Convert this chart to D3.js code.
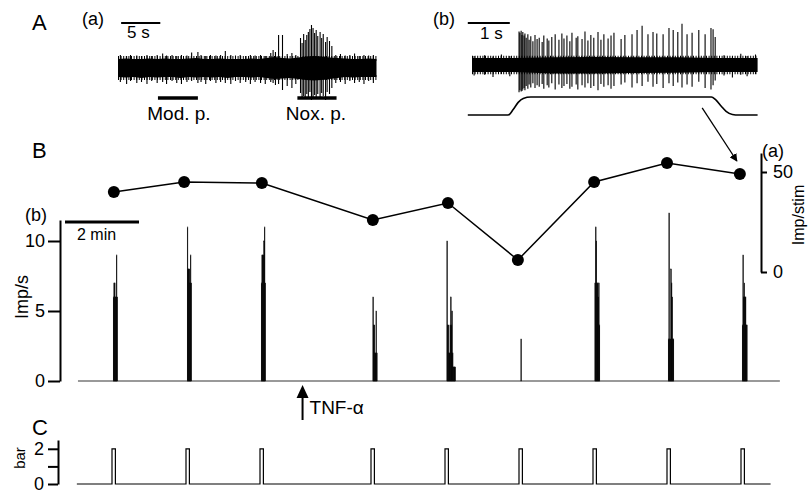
<!DOCTYPE html>
<html>
<head>
<meta charset="utf-8">
<script src="https://cdn.jsdelivr.net/npm/d3@7"></script>
<style>
  body { margin: 0; background: #fff; }
  svg { display: block; font-family: "Liberation Sans", Arial, Helvetica, sans-serif; }
  .axis path, .axis line { stroke: #000; stroke-width: 2; }
  .axis text { font-size: 18px; fill: #000; font-family: "Liberation Sans", Arial, sans-serif; }
  .lbl { fill: #000; }
</style>
</head>
<body>
<div id="chart"></div>
<script>
// ---- B / C: long recording, time in minutes ----
const stimTimes = [1, 3, 5, 8, 10, 12, 14, 16, 18];
const stimDuration = 5.5;        // s
const stimPressure = 2;          // bar
const tnfTime = 6.15;            // min
const traceStart = 0.05, traceEnd = 18.8, baselineEnd = 19.05;

// Imp/s in 1 s bins counted from each stimulus onset
const rateBins = [
  [0, 0, 6, 7, 7, 6, 6, 9, 6],
  [0, 0, 11, 8, 8, 8, 7, 9, 7],
  [0, 0, 7, 9, 9, 9, 10, 11, 7],
  [0, 0, 0, 6, 4, 4, 2, 2, 5, 2],
  [0, 0, 0, 10, 4, 4, 2, 2, 4, 6, 4, 5, 2, 1, 1, 1, 1],
  [0, 0, 0, 3],
  [0, 0, 0, 7, 11, 10, 7, 7, 6, 7, 4],
  [0, 0, 3, 12, 3, 3, 8, 7, 6, 3, 3],
  [0, 0, 4, 9, 6, 7, 6, 6, 4, 4]
];

// (a) impulses per stimulus
const dotTimes = [1.05, 2.95, 5.05, 8.05, 10.08, 11.97, 14.03, 16.0, 17.97];
const impPerStim = [40, 45, 44.5, 26, 34.5, 6, 45, 54.5, 49];

// ---- A(a): 33 s recording, moderate and noxious pressure ----
const aaTop = [0.9,0.95,0.9,0.9,0.95,0.9,0.95,0.9,0.9,0.95,1.0,0.9,0.9,0.95,0.9,0.9,0.9,0.95,0.9,1.0,1.1,1.0,0.95,1.05,1.15,1.2,1.15,1.05,1.0,0.95,0.9,0.9,0.95,0.9];
const aaBottom = [-0.9,-0.95,-0.9,-1.0,-0.9,-0.95,-0.9,-0.9,-1.0,-0.9,-0.95,-0.9,-0.95,-0.9,-1.0,-0.9,-0.9,-0.95,-0.9,-1.0,-1.1,-1.05,-1.0,-1.1,-1.2,-1.25,-1.2,-1.1,-1.0,-0.9,-0.95,-0.9,-0.9,-0.9];
const aaSpikes = [
  [0.3,1.3,-1.4],[1.1,1.2,-1.6],[1.6,1.3,-1.3],[2.4,1.25,-1.5],[3.0,1.2,-1.4],[3.7,1.3,-1.6],[4.3,1.2,-1.3],
  [5.0,1.3,-1.5],[5.7,1.45,-1.4],[6.2,1.25,-1.6],[6.9,1.3,-1.3],[7.5,1.2,-1.5],[8.1,1.3,-1.6],[8.8,1.25,-1.4],
  [9.4,1.55,-1.3],[10.2,1.6,-1.5],[10.6,1.3,-1.4],[11.2,1.2,-1.6],[11.8,1.3,-1.3],[12.5,1.25,-1.5],[13.1,1.3,-1.4],
  [13.7,1.7,-1.5],[14.4,1.3,-1.6],[15.0,1.25,-1.3],[15.6,1.3,-1.5],[16.3,1.2,-1.4],[16.9,1.3,-1.6],[17.5,1.25,-1.4],
  [18.2,1.3,-1.5],[18.8,1.2,-1.6],[19.5,1.5,-1.4],[19.8,1.8,-1.5],[20.1,1.6,-1.7],[20.5,3.3,-1.6],[21.0,3.3,-2.2],
  [21.6,1.4,-1.8],[22.2,1.5,-2.0],[22.7,1.3,-1.6],
  [23.3,3.0,-2.5],[23.5,2.5,-3.0],[23.7,3.4,-2.8],[23.9,2.8,-3.1],[24.1,3.3,-2.6],[24.3,3.6,-3.0],[24.5,3.9,-2.4],
  [24.7,4.3,-3.2],[24.9,4.0,-2.9],[25.1,3.5,-2.7],[25.3,3.8,-3.1],[25.5,3.2,-2.6],[25.8,3.6,-2.9],[26.0,3.0,-2.5],
  [26.2,3.4,-2.8],[26.5,2.6,-3.2],[26.7,3.1,-2.4],[27.0,2.7,-2.6],[27.3,2.2,-2.0],
  [27.8,1.3,-1.5],[28.4,1.4,-1.4],[29.0,1.25,-1.6],[29.6,1.3,-1.3],[30.2,1.45,-1.5],[30.8,1.2,-1.4],[31.4,1.3,-1.6],
  [32.0,1.25,-1.3],[32.6,1.3,-1.5]
];
const modPress = [5.1, 10.2];
const noxPress = [22.9, 27.9];

// ---- A(b): 6.8 s sweep, single stimulus ----
const abTop = [1.0, 1.0, 1.1, 1.15, 1.1, 1.1, 1.0, 1.0];
const abBottom = [-1.0, -1.0, -1.2, -1.2, -1.15, -1.1, -1.0, -1.0];
const abSpikes = [
  [0.05,1.3,-1.5],[0.3,1.4,-1.4],[0.5,1.2,-1.7],[0.7,1.5,-1.3],[0.9,1.3,-1.6],
  [1.12,4.8,-3.9],[1.14,4.6,-3.6],[1.17,4.9,-3.8],[1.19,4.3,-3.7],[1.21,4.7,-3.5],[1.24,4.2,-3.3],[1.26,4.5,-3.6],
  [1.29,3.9,-3.0],[1.33,4.4,-3.4],[1.36,3.6,-2.8],[1.40,4.1,-3.2],[1.45,3.4,-2.6],[1.50,4.3,-3.3],[1.55,3.7,-2.9],
  [1.60,3.9,-3.1],[1.67,3.3,-2.7],[1.71,4.2,-3.4],[1.79,3.8,-2.9],[1.83,3.5,-3.2],[1.90,4.0,-2.6],[1.98,4.4,-3.5],
  [2.07,3.6,-2.8],[2.14,4.5,-3.3],[2.19,3.8,-3.0],[2.26,4.2,-2.7],[2.33,3.4,-3.4],[2.38,4.6,-3.1],[2.48,3.9,-2.8],
  [2.52,4.1,-3.5],[2.62,3.7,-2.9],[2.69,4.8,-3.2],[2.76,3.5,-2.6],[2.83,4.3,-3.3],[2.90,3.9,-3.0],[3.00,4.7,-3.6],
  [3.07,3.6,-2.7],[3.14,4.4,-3.1],[3.24,3.8,-2.9],[3.31,4.2,-3.4],[3.38,4.6,-3.0],[3.55,3.7,-2.8],[3.64,4.3,-2.5],
  [3.81,4.4,-3.2],[3.93,5.0,-2.6],[4.05,5.6,-3.0],[4.19,4.4,-2.4],[4.31,4.7,-3.1],[4.40,4.5,-2.7],[4.55,4.4,-3.3],
  [4.69,5.3,-2.6],[4.79,5.0,-3.0],[4.90,4.7,-2.5],[5.00,5.9,-3.2],[5.12,4.4,-2.8],[5.24,4.6,-3.1],[5.40,5.0,-2.4],
  [5.55,4.4,-3.3],[5.69,5.3,-3.5],[5.74,5.1,-2.9],[5.79,4.0,-2.2],
  [6.0,1.4,-1.5],[6.2,1.2,-1.8],[6.4,1.6,-1.4],[6.55,1.3,-1.6],[6.75,1.5,-1.3]
];
// mechanical stimulus (normalised force)
const abForce = [[-0.1,0],[0.86,0],[0.98,0.3],[1.1,0.7],[1.22,0.92],[1.4,1],[5.7,1],[5.8,0.85],[5.93,0.5],[6.05,0.2],[6.2,0.03],[6.35,0],[6.8,0]];

const svg = d3.select('#chart').append('svg')
  .attr('width', 808)
  .attr('height', 494);

svg.append('defs').append('marker')
  .attr('id', 'head')
  .attr('viewBox', '0 0 10 10')
  .attr('refX', 9).attr('refY', 5)
  .attr('markerWidth', 6).attr('markerHeight', 6)
  .attr('markerUnits', 'strokeWidth')
  .attr('orient', 'auto')
  .append('path').attr('d', 'M0,0 L10,5 L0,10 Z').attr('fill', '#000');

function text(x, y, s, size, anchor) {
  return svg.append('text').attr('class', 'lbl')
    .attr('x', x).attr('y', y)
    .attr('font-size', size)
    .attr('text-anchor', anchor || 'start')
    .text(s);
}

function drawTrace(xs, ys, top, bottom, spikes) {
  const g = svg.append('g');
  const [t0, t1] = xs.domain();
  const env = top.map((d, i) => [t0 + i * (t1 - t0) / (top.length - 1), d, bottom[i]]);
  g.append('path')
    .datum(env)
    .attr('fill', '#000')
    .attr('d', d3.area().x(d => xs(d[0])).y0(d => ys(d[2])).y1(d => ys(d[1])));
  // noise fuzz on both edges
  [0.95, -0.95].forEach(v => {
    g.append('line')
      .attr('x1', xs(t0)).attr('x2', xs(t1))
      .attr('y1', ys(v)).attr('y2', ys(v))
      .attr('stroke', '#000').attr('stroke-width', 5)
      .attr('stroke-dasharray', '1,1.6');
  });
  g.selectAll('.spk').data(spikes).join('line')
    .attr('x1', d => xs(d[0])).attr('x2', d => xs(d[0]))
    .attr('y1', d => ys(d[1])).attr('y2', d => ys(d[2]))
    .attr('stroke', '#000').attr('stroke-width', 1.1);
}

// ===== A(a) =====
const xAa = d3.scaleLinear().domain([0, 33]).range([118, 376.5]);
const yAa = d3.scaleLinear().domain([-1, 1]).range([78, 58]);
drawTrace(xAa, yAa, aaTop, aaBottom, aaSpikes);

svg.append('line').attr('x1', xAa(0.4)).attr('x2', xAa(5.4)).attr('y1', 23).attr('y2', 23)
  .attr('stroke', '#000').attr('stroke-width', 2);
[modPress, noxPress].forEach(p => {
  svg.append('line').attr('x1', xAa(p[0])).attr('x2', xAa(p[1])).attr('y1', 98).attr('y2', 98)
    .attr('stroke', '#000').attr('stroke-width', 3.5);
});
text(32, 30, 'A', 22);
text(82, 25, '(a)', 18);
text(127, 38, '5 s', 17);
text(xAa(d3.mean(modPress)) + 1, 120, 'Mod. p.', 19, 'middle');
text(xAa(d3.mean(noxPress)) - 1, 120, 'Nox. p.', 19, 'middle');

// ===== A(b) =====
const xAb = d3.scaleLinear().domain([0, 6.8]).range([472, 757.6]);
const yAb = d3.scaleLinear().domain([-1, 1]).range([72, 58]);
const yForce = d3.scaleLinear().domain([0, 1]).range([115, 97]);
drawTrace(xAb, yAb, abTop, abBottom, abSpikes);

svg.append('line').attr('x1', xAb(-0.1)).attr('x2', xAb(0.9)).attr('y1', 23).attr('y2', 23)
  .attr('stroke', '#000').attr('stroke-width', 2);
svg.append('path').datum(abForce)
  .attr('fill', 'none').attr('stroke', '#000').attr('stroke-width', 1.6)
  .attr('d', d3.line().x(d => xAb(d[0])).y(d => yForce(d[1])).curve(d3.curveMonotoneX));
text(433, 25, '(b)', 18);
text(480, 39, '1 s', 17);

// ===== B =====
const xB = d3.scaleLinear().domain([0, 19]).range([75, 778]);
const yB = d3.scaleLinear().domain([0, 11.5]).range([381, 220]);
const yStim = d3.scaleLinear().domain([0, 59.5]).range([272, 153]);

svg.append('g').attr('class', 'axis')
  .attr('transform', 'translate(60,0)')
  .call(d3.axisLeft(yB).tickValues([0, 5, 10]).tickSize(12).tickSizeOuter(0).tickPadding(3));

svg.append('line')
  .attr('x1', xB(0.08)).attr('x2', xB(baselineEnd))
  .attr('y1', yB(0)).attr('y2', yB(0))
  .attr('stroke', '#777').attr('stroke-width', 1.6);

const binW = xB(1 / 60) - xB(0);
const bins = [];
rateBins.forEach((arr, i) => arr.forEach((v, k) => {
  if (v > 0) bins.push({ t: stimTimes[i] + k / 60, v: v });
}));
svg.append('g').selectAll('rect').data(bins).join('rect')
  .attr('x', d => xB(d.t))
  .attr('width', binW)
  .attr('y', d => yB(d.v))
  .attr('height', d => yB(0) - yB(d.v))
  .attr('fill', '#000')
  .attr('stroke', '#000')
  .attr('stroke-width', 0.5);

// Imp/stim series
const dots = dotTimes.map((t, i) => [t, impPerStim[i]]);
svg.append('path').datum(dots)
  .attr('fill', 'none').attr('stroke', '#000').attr('stroke-width', 1.5)
  .attr('d', d3.line().x(d => xB(d[0])).y(d => yStim(d[1])));
svg.append('g').selectAll('circle').data(dots).join('circle')
  .attr('cx', d => xB(d[0])).attr('cy', d => yStim(d[1]))
  .attr('r', 6).attr('fill', '#000');

svg.append('g').attr('class', 'axis')
  .attr('transform', 'translate(761,0)')
  .call(d3.axisRight(yStim).tickValues([0, 50]).tickSize(6).tickSizeOuter(0).tickPadding(6));

// arrow from A(b) sweep to its point
const last = dots[dots.length - 1];
svg.append('line')
  .attr('x1', xAb(5.48)).attr('y1', yForce(0.39))
  .attr('x2', xB(last[0]) - 3).attr('y2', yStim(last[1]) - 13)
  .attr('stroke', '#000').attr('stroke-width', 1.3)
  .attr('marker-end', 'url(#head)');

text(32, 158, 'B', 22);
text(25, 221, '(b)', 18);
svg.append('line').attr('x1', xB(-0.27)).attr('x2', xB(1.73)).attr('y1', 222).attr('y2', 222)
  .attr('stroke', '#000').attr('stroke-width', 3);
text(77, 240, '2 min', 16);
text(762, 157, '(a)', 18);
svg.append('text').attr('class', 'lbl')
  .attr('transform', 'translate(28,297) rotate(-90)')
  .attr('font-size', 18).attr('text-anchor', 'middle').text('Imp/s');
svg.append('text').attr('class', 'lbl')
  .attr('transform', 'translate(804,215) rotate(-90)')
  .attr('font-size', 16).attr('text-anchor', 'middle').text('Imp/stim');

// TNF-α application
const xt = xB(tnfTime);
svg.append('line').attr('x1', xt).attr('x2', xt).attr('y1', 420).attr('y2', 395)
  .attr('stroke', '#000').attr('stroke-width', 2);
svg.append('path')
  .attr('d', `M${xt - 6},398 L${xt},385 L${xt + 6},398 Z`).attr('fill', '#000');
text(xt + 7, 414, 'TNF-α', 19);

// ===== C =====
const yC = d3.scaleLinear().domain([0, 2.5]).range([484, 440]);
svg.append('g').attr('class', 'axis')
  .attr('transform', 'translate(58,0)')
  .call(d3.axisLeft(yC).tickValues([0, 1, 2]).tickSize(10).tickSizeOuter(0).tickPadding(4)
    .tickFormat(d => d === 1 ? '' : d));

const dur = stimDuration / 60;
const press = [[traceStart, 0]];
stimTimes.forEach(t => {
  press.push([t, 0], [t, stimPressure], [t + dur, stimPressure], [t + dur, 0]);
});
press.push([traceEnd, 0]);
svg.append('path').datum(press)
  .attr('fill', 'none').attr('stroke', '#000').attr('stroke-width', 1.2)
  .attr('d', d3.line().x(d => xB(d[0])).y(d => yC(d[1])));

text(32, 435, 'C', 22);
svg.append('text').attr('class', 'lbl')
  .attr('transform', 'translate(25,458) rotate(-90)')
  .attr('font-size', 15).attr('text-anchor', 'middle').text('bar');
</script>
</body>
</html>
